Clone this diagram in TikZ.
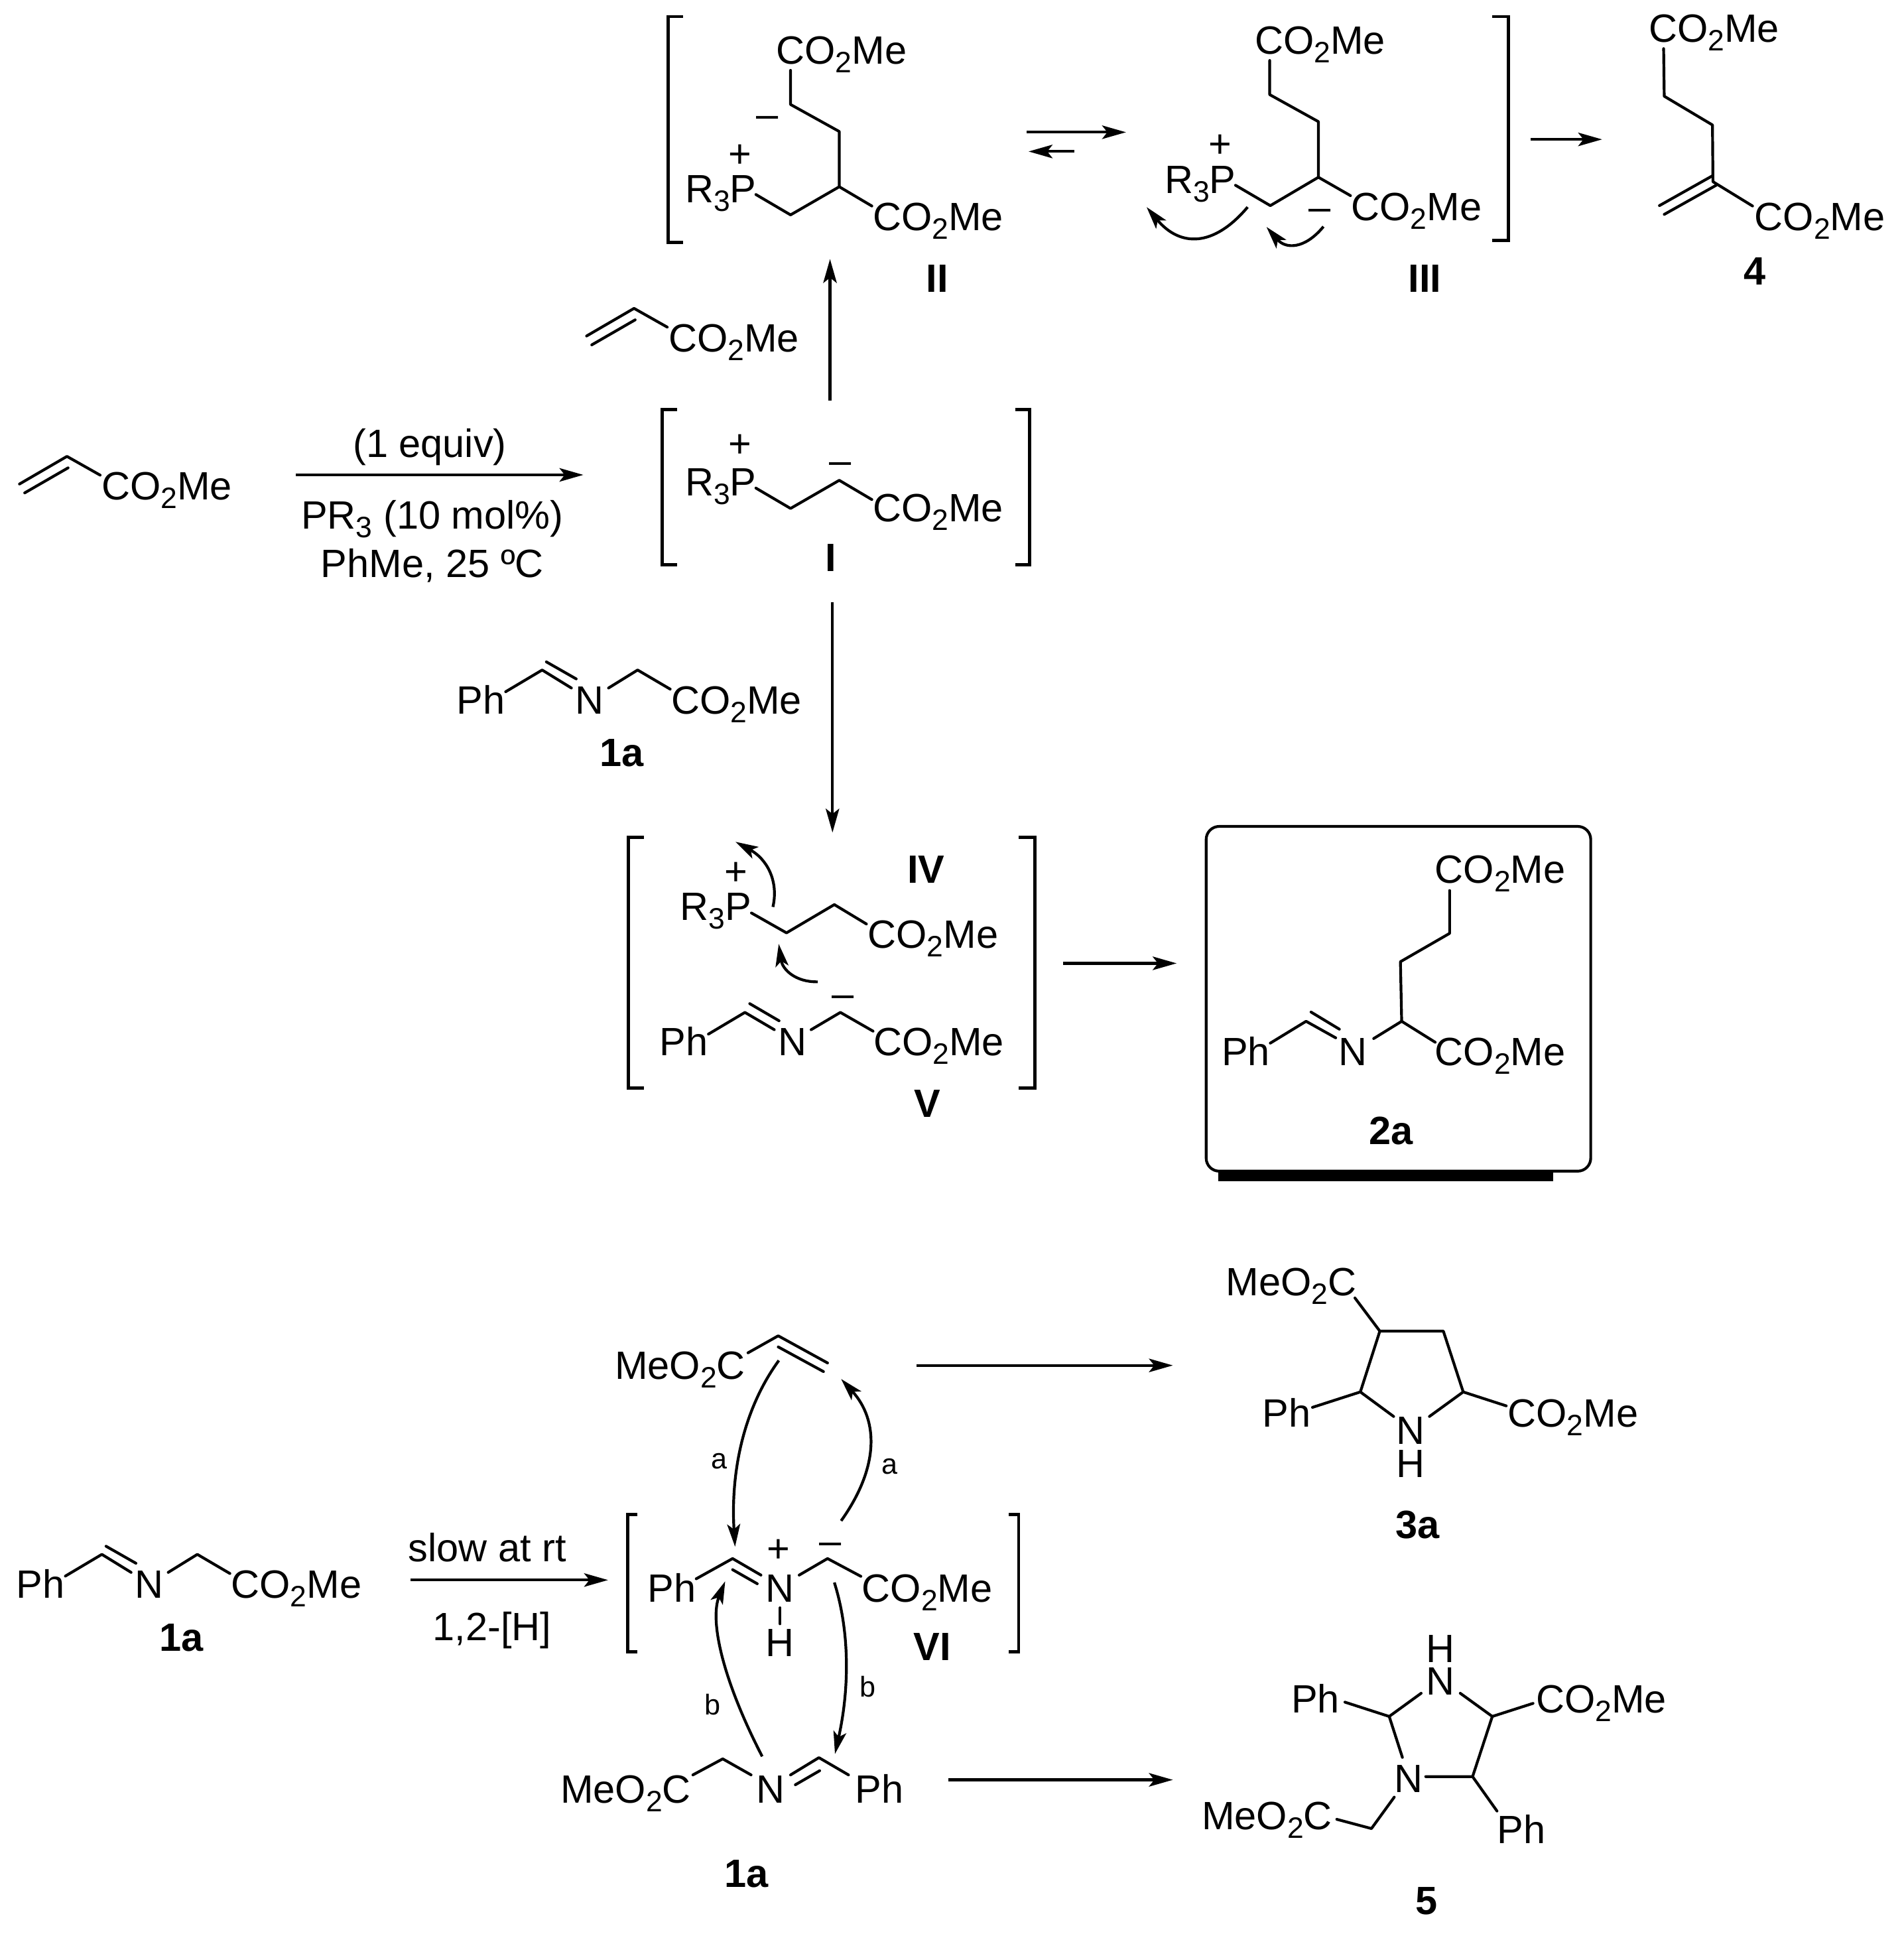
\documentclass[tikz,border=0pt]{standalone}
\usepackage{fontspec}
\setmainfont{Liberation Sans}
\usetikzlibrary{arrows.meta,calc}
\newcommand{\lowtwo}[1]{\raisebox{-2pt}{\fontsize{6.8}{6.8}\selectfont #1}}
\newcommand{\coome}{CO\lowtwo{2}Me}
\newcommand{\mecoo}{MeO\lowtwo{2}C}
\newcommand{\rtp}{R\lowtwo{3}P}
\newcommand{\qcurve}[3]{\draw[curly] (#1) .. controls ($(#1)!0.667!(#2)$) and ($(#3)!0.667!(#2)$) .. (#3);}
\tikzset{
  every node/.style={inner sep=0pt,outer sep=0pt,font=\fontsize{9.1}{10}\selectfont},
  tl/.style={anchor=base west},
  tc/.style={anchor=base},
  chgp/.style={anchor=base,yshift=-0.115cm},
  chgm/.style={anchor=base,yshift=-0.09cm},
  stack/.style={anchor=base,align=center,font=\fontsize{9.1}{7.5}\selectfont},
  cmpd/.style={anchor=base,font=\fontsize{9.1}{10}\selectfont\bfseries},
  small/.style={anchor=base,font=\fontsize{6.6}{8}\selectfont},
  bond/.style={line width=0.64pt,line cap=round,line join=round},
  brk/.style={line width=0.72pt,line cap=butt,line join=miter},
  rxn/.style={line width=0.64pt,-{Stealth[length=5.5pt,width=3.1pt,inset=1.2pt]}},
  curly/.style={line width=0.64pt,-{Stealth[length=5.2pt,width=3pt,inset=1.2pt]}},
}
\begin{document}
\begin{tikzpicture}[x=0.01cm,y=-0.01cm]
\useasboundingbox (0,0) rectangle (1543.3,1568);

% ---------- Intermediate II
\draw[brk] (553.6,13.4) -- (541.6,13.4) -- (541.6,196.6) -- (553.6,196.6);
\node[tl] (iiA) at (629.5,52) {\coome};
\node[tl] (iiB) at (707.7,187) {\coome};
\node[tl] (iiP) at (555.5,164) {\rtp};
\node[chgp] (iiPlus) at (600,124) {+};
\node[chgm] (iiMinus) at (622,94.5) {–};
\node[cmpd] (II) at (760,236.6) {II};
\draw[bond] (641,57) -- (641,84.7) -- (680.5,106.6) -- (680.5,151.4) -- (641,174.2) -- (612.9,157.7);
\draw[bond] (680.5,151.4) -- (706.9,167);

% ---------- equilibrium
\coordinate (eqAs) at (832.4,107.2); \coordinate (eqAe) at (913,107.2);
\coordinate (eqBs) at (871,122.8); \coordinate (eqBe) at (834,122.8);
\draw[rxn] (eqAs) -- (eqAe);
\draw[rxn] (eqBs) -- (eqBe);

% ---------- Intermediate III
\node[tl] (iiiA) at (1017.5,44) {\coome};
\node[tl] (iiiB) at (1095.7,178.9) {\coome};
\node[tl] (iiiP) at (944.3,156.5) {\rtp};
\node[chgp] (iiiPlus) at (989.2,116.1) {+};
\node[chgm] (iiiMinus) at (1070,169.7) {–};
\node[cmpd] (III) at (1155.3,237) {III};
\draw[bond] (1029.5,49) -- (1029.5,76.7) -- (1069,98.6) -- (1069,143.7) -- (1030,166.7) -- (1001.8,150.2);
\draw[bond] (1069,143.7) -- (1095,158.6);
\draw[brk] (1210,13.4) -- (1223,13.4) -- (1223,195) -- (1210,195);
\coordinate (c1s) at (1011.6,167.9); \coordinate (c1c) at (970.4,216.7); \coordinate (c1e) at (929.7,167.9);
\qcurve{c1s}{c1c}{c1e}
\coordinate (c2s) at (1073.1,183.7); \coordinate (c2c) at (1050.4,211.2); \coordinate (c2e) at (1026.9,184);
\qcurve{c2s}{c2c}{c2e}

% ---------- to 4
\coordinate (to4s) at (1241,113); \coordinate (to4e) at (1299,113);
\draw[rxn] (to4s) -- (to4e);
\node[tl] (fA) at (1337,34) {\coome};
\node[tl] (fB) at (1422.7,187) {\coome};
\node[cmpd] (four) at (1422.6,231) {4};
\draw[bond] (1348.9,39.4) -- (1349.4,78) -- (1388.5,101.3) -- (1388.9,147.3) -- (1421,167);
\draw[bond] (1388.5,142.5) -- (1345.5,166.7);
\draw[bond] (1391.5,150.2) -- (1349.4,173.8);

% ---------- acrylate above I
\node[tl] (acrB) at (542.2,285) {\coome};
\draw[bond] (475.6,272.4) -- (514.1,250) -- (541,265.2);
\draw[bond] (479.8,279.6) -- (515,259.3);
\coordinate (upS) at (673,325); \coordinate (upE) at (673,210);
\draw[rxn] (upS) -- (upE);

% ---------- starting acrylate and arrow
\node[tl] (acrA) at (82.3,405) {\coome};
\draw[bond] (15.8,392.4) -- (54.3,370) -- (81.2,385.2);
\draw[bond] (20,399.6) -- (55.2,379.3);
\coordinate (r1s) at (240,385); \coordinate (r1e) at (473,385);
\draw[rxn] (r1s) -- (r1e);
\node[tc] (eq1) at (348.5,371) {(1 equiv)};
\node[tc] (pr3) at (350.5,429) {PR\lowtwo{3} (10 mol\%)};
\node[tc] (cond) at (350.5,468) {PhMe, 25 ºC};

% ---------- Intermediate I
\draw[brk] (549,332) -- (537,332) -- (537,458) -- (549,458);
\draw[brk] (823,332) -- (835,332) -- (835,458) -- (823,458);
\node[tl] (iP) at (555.5,402) {\rtp};
\node[chgp] (iPlus) at (600,359) {+};
\node[chgm] (iMinus) at (681.5,375) {–};
\node[tl] (iC) at (707.7,423) {\coome};
\node[cmpd] (I) at (673.5,463) {I};
\draw[bond] (612.9,395.7) -- (641,412.2) -- (680.5,389.4) -- (706.9,405);

% ---------- I to IV
\coordinate (dnS) at (675,488); \coordinate (dnE) at (675,675);
\draw[rxn] (dnS) -- (dnE);

% ---------- 1a upper
\node[tl] (ph1) at (370.4,578.7) {Ph};
\node[tc] (n1) at (478,578.7) {N};
\node[tl] (c1) at (544.4,578.7) {\coome};
\node[cmpd] (onea) at (504,621.4) {1a};
\draw[bond] (410,560.8) -- (439.6,543.2) -- (463.3,557.8);
\draw[bond] (443,536.6) -- (467.2,550.4);
\draw[bond] (493.4,557.8) -- (517,543.2) -- (543.4,558.7);

% ---------- IV / V
\draw[brk] (522,678.8) -- (509.5,678.8) -- (509.5,882) -- (522,882);
\draw[brk] (826,678.8) -- (839,678.8) -- (839,882) -- (826,882);
\node[chgp] (ivPlus) at (596.8,706.1) {+};
\node[tl] (ivP) at (551.5,746) {\rtp};
\node[tl] (ivC) at (703.6,768.8) {\coome};
\node[cmpd] (IV) at (750.9,716) {IV};
\draw[bond] (609.3,740.2) -- (637.7,756.3) -- (676.5,733.4) -- (702.5,749.1);
\coordinate (c3s) at (626.7,735.3); \coordinate (c3c) at (634,703); \coordinate (c3e) at (596.4,682.5);
\qcurve{c3s}{c3c}{c3e}
\coordinate (c4s) at (663.1,796); \coordinate (c4c) at (636,796.5); \coordinate (c4e) at (631.4,765.3);
\qcurve{c4s}{c4c}{c4e}
\node[chgm] (vMinus) at (683.6,807.4) {–};
\node[tl] (vPh) at (534.9,855.8) {Ph};
\node[tc] (vN) at (642.5,855.8) {N};
\node[tl] (vC) at (708.4,855.8) {\coome};
\node[cmpd] (V) at (751.8,906) {V};
\draw[bond] (574.4,838.4) -- (604,820.8) -- (627.8,834.8);
\draw[bond] (607.9,813.7) -- (631.7,827.6);
\draw[bond] (657.7,834.8) -- (681.4,820.8) -- (707.9,836);
\coordinate (r2s) at (862,781); \coordinate (r2e) at (954,781);
\draw[rxn] (r2s) -- (r2e);

% ---------- Box 2a
\fill[black] (988,946) rectangle (1259.5,957.4);
\draw[line width=0.64pt,fill=white,rounded corners=3pt] (978,670) rectangle (1289.8,949.5);
\node[tl] (bA) at (1163.5,716) {\coome};
\node[tl] (bB) at (1163.5,864) {\coome};
\node[tl] (bPh) at (990.5,864) {Ph};
\node[tc] (bN) at (1097,864) {N};
\node[cmpd] (twoa) at (1128,928) {2a};
\draw[bond] (1175.4,722) -- (1175.4,756.7) -- (1135.5,779.7) -- (1136.5,828) -- (1163.7,845);
\draw[bond] (1136.5,828) -- (1113.8,842);
\draw[bond] (1030,845.7) -- (1059,828) -- (1083,841.4);
\draw[bond] (1063,820.5) -- (1086,834.4);

% ---------- lower 1a and arrow
\node[tl] (lPh) at (13.4,1295.7) {Ph};
\node[tc] (lN) at (121,1295.7) {N};
\node[tl] (lC) at (187.4,1295.7) {\coome};
\node[cmpd] (lone) at (147,1338.4) {1a};
\draw[bond] (53,1277.8) -- (82.6,1260.2) -- (106.3,1274.8);
\draw[bond] (86,1253.6) -- (110.2,1267.4);
\draw[bond] (136.4,1274.8) -- (160,1260.2) -- (186.4,1275.7);
\coordinate (r3s) at (333,1281); \coordinate (r3e) at (493,1281);
\draw[rxn] (r3s) -- (r3e);
\node[tc] (slow) at (395,1266) {slow at rt};
\node[tc] (hshift) at (399,1330) {1,2-[H]};

% ---------- upper acrylate
\node[tl] (mA) at (498.6,1118) {\mecoo};
\draw[bond] (606.5,1096.8) -- (631,1083) -- (671,1105);
\draw[bond] (631,1092) -- (667.7,1112);
\coordinate (r4s) at (743,1107); \coordinate (r4e) at (951,1107);
\draw[rxn] (r4s) -- (r4e);
\coordinate (aLs) at (631.5,1103); \coordinate (aLc) at (590.2,1159.5); \coordinate (aLe) at (596,1254);
\qcurve{aLs}{aLc}{aLe}
\coordinate (aRs) at (682,1233); \coordinate (aRc) at (728,1168.5); \coordinate (aRe) at (682,1118);
\qcurve{aRs}{aRc}{aRe}
\node[small] (aL) at (583,1191) {a};
\node[small] (aR) at (721.6,1195) {a};

% ---------- VI
\draw[brk] (517,1228) -- (509,1228) -- (509,1339) -- (517,1339);
\draw[brk] (818,1228) -- (826,1228) -- (826,1339) -- (818,1339);
\node[tl] (viPh) at (525,1299) {Ph};
\node[tc] (viN) at (632.5,1299) {N};
\node[chgp] (viPlus) at (631,1255) {+};
\node[tc] (viH) at (632.5,1343) {H};
\node[chgm] (viMinus) at (673,1251) {–};
\node[tl] (viC) at (699,1299) {\coome};
\node[cmpd] (VI) at (756,1346) {VI};
\draw[bond] (564.5,1280) -- (594,1263.6) -- (617,1277);
\draw[bond] (594,1272.6) -- (614,1284);
\draw[bond] (632.5,1303.5) -- (632.5,1316.5);
\draw[bond] (648,1277) -- (671,1263.6) -- (698,1278);
\coordinate (bLs) at (618,1424); \coordinate (bLc) at (569,1329); \coordinate (bLe) at (588,1282);
\qcurve{bLs}{bLc}{bLe}
\coordinate (bRs) at (676.5,1283); \coordinate (bRc) at (695,1341.5); \coordinate (bRe) at (677,1422);
\qcurve{bRs}{bRc}{bRe}
\node[small] (bL) at (577.7,1390) {b};
\node[small] (bR) at (703.8,1376) {b};

% ---------- lowest 1a
\node[tl] (nA) at (454.5,1462) {\mecoo};
\node[tc] (nN) at (625,1462) {N};
\node[tl] (nPh) at (693.5,1462) {Ph};
\node[cmpd] (none) at (605,1530) {1a};
\draw[bond] (561.8,1439) -- (586,1426) -- (609,1439);
\draw[bond] (641,1439) -- (664,1425) -- (688,1439);
\draw[bond] (644.9,1447) -- (664.6,1435.6);
\coordinate (r5s) at (769,1443); \coordinate (r5e) at (951,1443);
\draw[rxn] (r5s) -- (r5e);

% ---------- 3a
\node[tl] (tA) at (994.1,1050.2) {\mecoo};
\node[tl] (tPh) at (1023.6,1156.8) {Ph};
\node[stack] (tNH) at (1143.7,1197.5) {N\\H};
\node[tl] (tC) at (1222.5,1156.8) {\coome};
\node[cmpd] (threea) at (1149.6,1247) {3a};
\draw[bond] (1098.6,1052.3) -- (1118.8,1079.2) -- (1170.3,1079.2) -- (1186.4,1128.5) -- (1159,1148.4);
\draw[bond] (1118.8,1079.2) -- (1103,1128.5) -- (1130,1148.4);
\draw[bond] (1064.2,1141) -- (1103,1128.5);
\draw[bond] (1186.4,1128.5) -- (1221.3,1139.8);

% ---------- 5
\node[stack] (pHN) at (1167.9,1374) {H\\N};
\node[tl] (pPh) at (1047,1388.6) {Ph};
\node[tl] (pC) at (1245.5,1388.6) {\coome};
\node[tc] (pNb) at (1142,1453) {N};
\node[tl] (pM) at (974.4,1483.4) {\mecoo};
\node[tl] (pPhb) at (1214.1,1494.7) {Ph};
\node[cmpd] (five) at (1156.8,1552) {5};
\draw[bond] (1090.5,1380) -- (1126.4,1391.6) -- (1152.3,1372.8);
\draw[bond] (1126.4,1391.6) -- (1137.1,1424.8);
\draw[bond] (1184,1372.8) -- (1210,1391.6) -- (1194,1440.4) -- (1156,1440.4);
\draw[bond] (1210,1391.6) -- (1243,1381);
\draw[bond] (1194,1440.4) -- (1213.8,1468.3);
\draw[bond] (1083.9,1475) -- (1112,1482.5) -- (1130.5,1457);
\end{tikzpicture}
\end{document}
